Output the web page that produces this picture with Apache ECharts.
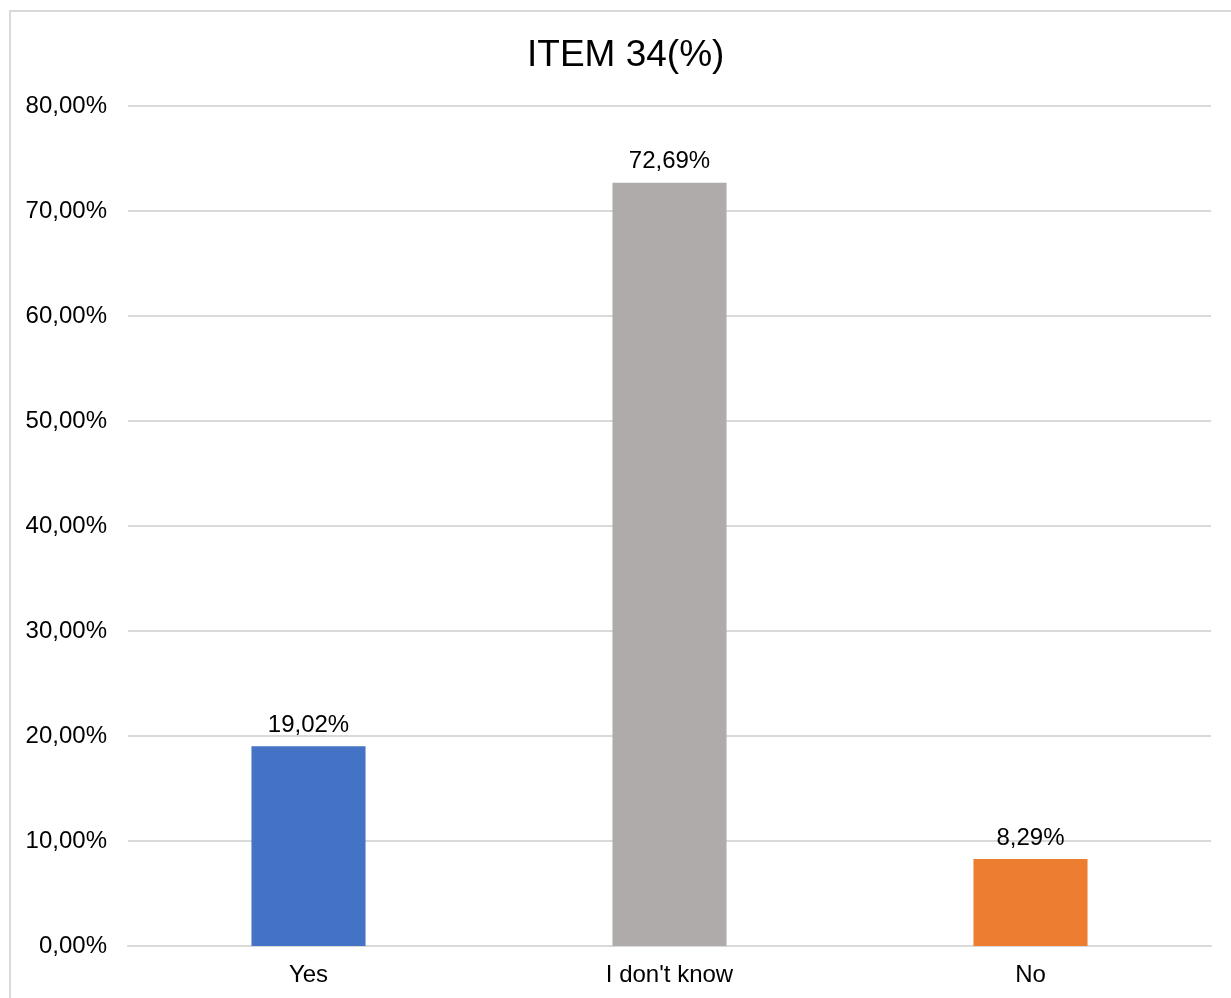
<!DOCTYPE html>
<html>
<head>
<meta charset="utf-8">
<title>ITEM 34(%)</title>
<script src="https://cdn.jsdelivr.net/npm/echarts@6/dist/echarts.min.js"></script>
<style>
  html, body { margin: 0; padding: 0; background: #fff; overflow: hidden; }
  #frame { position: absolute; left: 9px; top: 10px; width: 1260px; height: 1020px;
           border: 2px solid #d9d9d9; box-sizing: border-box; }
  #chart { position: absolute; left: 0; top: 0; width: 1231px; height: 998px; }
</style>
</head>
<body>
<div id="frame"></div>
<div id="chart"></div>
<script>
// Survey answers for item 34, percentages
const categories = ["Yes", "I don't know", "No"];
const values = [19.02, 72.69, 8.29];
const barColors = ["#4472c4", "#afabab", "#ed7d31"];
const titleText = "ITEM 34(%)";

const fmt = v => v.toFixed(2).replace('.', ',') + '%';
const font = "'Liberation Sans', Arial, sans-serif";

const chart = echarts.init(document.getElementById('chart'));
chart.setOption({
  backgroundColor: 'transparent',
  animation: false,
  title: {
    text: titleText,
    left: 522,
    top: 32,
    textStyle: { fontFamily: font, fontSize: 37, fontWeight: 'normal', color: '#000' }
  },
  grid: { left: 128, right: 20, top: 106, bottom: 52 },
  xAxis: {
    type: 'category',
    data: categories,
    axisLine: { lineStyle: { color: '#d9d9d9', width: 2 } },
    axisTick: { show: false },
    axisLabel: { fontFamily: font, fontSize: 24, color: '#000', margin: 17 }
  },
  yAxis: {
    type: 'value',
    min: 0, max: 80, interval: 10,
    axisLine: { show: false },
    axisTick: { show: false },
    splitLine: { lineStyle: { color: '#d9d9d9', width: 2 } },
    axisLabel: { fontFamily: font, fontSize: 24, color: '#000', margin: 21,
                 formatter: v => fmt(v) }
  },
  series: [{
    type: 'bar',
    barWidth: '31.6%',
    data: values.map((v, i) => ({ value: v, itemStyle: { color: barColors[i] } })),
    label: {
      show: true, position: 'top', distance: 9,
      fontFamily: font, fontSize: 24, color: '#000',
      formatter: p => fmt(p.value)
    }
  }]
});
</script>
</body>
</html>
